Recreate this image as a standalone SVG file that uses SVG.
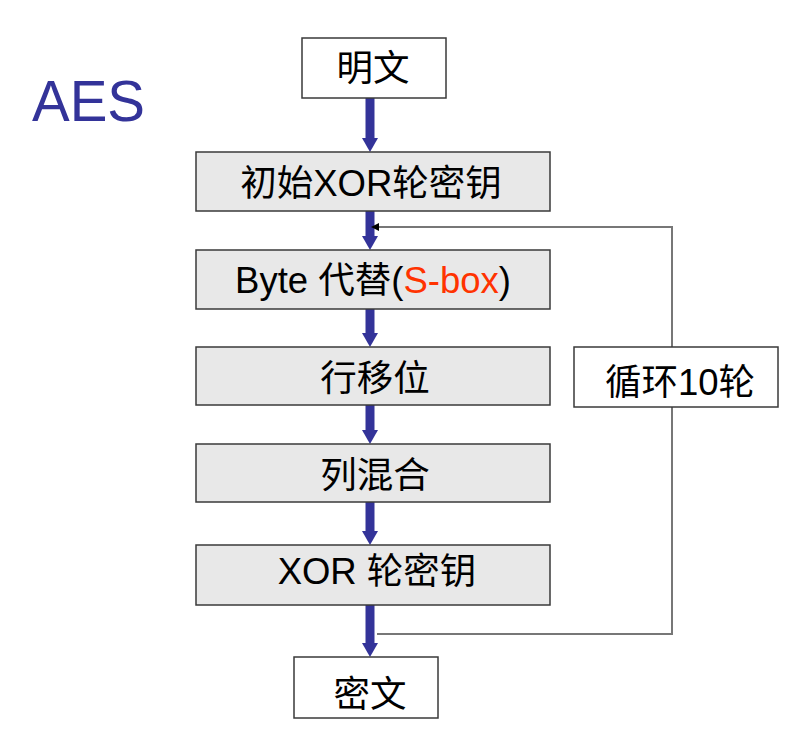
<svg xmlns="http://www.w3.org/2000/svg" width="802" height="754" viewBox="0 0 802 754">
<style>
.w{fill:#fff;stroke:#3a3a3a;stroke-width:1.5}
.g{fill:#e8e8e8;stroke:#3a3a3a;stroke-width:1.5}
.t{font-family:"Liberation Sans","Noto Sans CJK SC",sans-serif;font-size:36.5px;fill:#000;text-anchor:middle}
.ar{stroke:#333399;stroke-width:9;fill:none}
.loop{stroke:#777;stroke-width:2;fill:none}
</style>
<rect width="802" height="754" fill="#fff"/>
<text x="32" y="121" font-family="Liberation Sans, sans-serif" font-size="56.5" fill="#333399">AES</text>
<g id="connectors">
<line class="ar" x1="370" y1="98" x2="370" y2="138"/>
<path d="M362,138 L378,138 L370,152 Z" fill="#333399"/>
<line class="ar" x1="370" y1="211" x2="370" y2="236"/>
<path d="M362,236 L378,236 L370,250 Z" fill="#333399"/>
<line class="ar" x1="370" y1="309" x2="370" y2="333"/>
<path d="M362,333 L378,333 L370,347 Z" fill="#333399"/>
<line class="ar" x1="370" y1="405" x2="370" y2="430"/>
<path d="M362,430 L378,430 L370,444 Z" fill="#333399"/>
<line class="ar" x1="370" y1="502" x2="370" y2="531"/>
<path d="M362,531 L378,531 L370,545 Z" fill="#333399"/>
<line class="ar" x1="370" y1="605" x2="370" y2="643"/>
<path d="M362,643 L378,643 L370,657 Z" fill="#333399"/>
<polyline class="loop" points="377,634 672,634 672,227 378,227"/>
<path d="M379,223 L371,227 L379,231 Z" fill="#000"/>
</g>
<g id="plain"><rect class="w" x="302" y="38" width="144" height="60"/><text class="t" x="373" y="81">明文</text></g>
<g id="initxor"><rect class="g" x="196" y="152" width="354" height="59"/><text class="t" x="371" y="196">初始XOR轮密钥</text></g>
<g id="subbytes"><rect class="g" x="196" y="250" width="354" height="59"/><text class="t" x="373" y="293">Byte 代替(<tspan fill="#ff3300">S-box</tspan>)</text></g>
<g id="shiftrows"><rect class="g" x="196" y="347" width="354" height="58"/><text class="t" x="375" y="391">行移位</text></g>
<g id="mixcol"><rect class="g" x="196" y="444" width="354" height="58"/><text class="t" x="375" y="488">列混合</text></g>
<g id="xorkey"><rect class="g" x="196" y="545" width="354" height="60"/><text class="t" x="377" y="584">XOR 轮密钥</text></g>
<g id="cipher"><rect class="w" x="294" y="657" width="144" height="61"/><text class="t" x="370" y="707">密文</text></g>
<g id="loopbox"><rect class="w" x="574" y="347" width="204" height="60"/><text class="t" x="680" y="395">循环10轮</text></g>
</svg>
